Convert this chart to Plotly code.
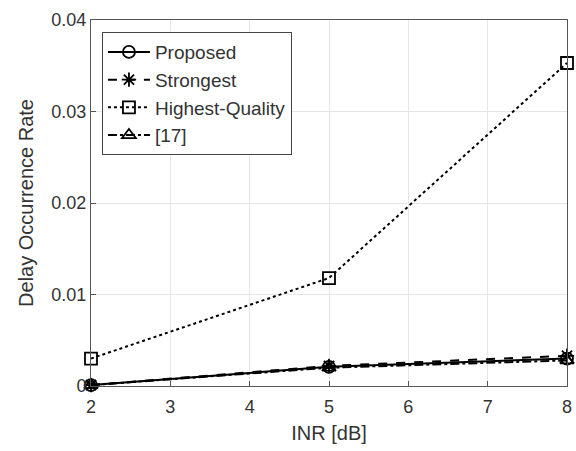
import plotly.graph_objects as go

inr = [2, 5, 8]
proposed = [0.0001, 0.0021, 0.0030]
strongest = [0.0001, 0.0022, 0.0033]
highest_quality = [0.0030, 0.0118, 0.0353]
ref17 = [0.0001, 0.0020, 0.0028]

series = [
    ("Proposed", proposed, "solid", "circle-open"),
    ("Strongest", strongest, "dash", "asterisk-open"),
    ("Highest-Quality", highest_quality, "dot", "square-open"),
    ("[17]", ref17, "dashdot", "triangle-up-open"),
]

fig = go.Figure()
for name, ys, dash, sym in series:
    fig.add_trace(go.Scatter(
        x=inr, y=ys, name=name, mode="lines+markers", cliponaxis=False,
        line=dict(color="black", width=2, dash=dash),
        marker=dict(symbol=sym, size=12, color="black", line=dict(color="black", width=1.8)),
    ))

axis_common = dict(
    showgrid=True, gridcolor="#e6e6e6", gridwidth=1,
    showline=True, linecolor="#555555", linewidth=1, mirror=True,
    ticks="inside", ticklen=5, tickcolor="#555555",
    tickfont=dict(family="Liberation Sans, Arial", size=18, color="#333333"),
    ticklabeloverflow="allow",
    zeroline=False,
)

fig.update_layout(
    width=576, height=451,
    margin=dict(l=91, r=4, t=20, b=65),
    plot_bgcolor="white", paper_bgcolor="white",
    font=dict(family="Liberation Sans, Arial", size=18, color="#333333"),
    xaxis=dict(range=[2, 8], tickvals=[2, 3, 4, 5, 6, 7, 8], ticklabelstandoff=4,
               title=dict(text="INR [dB]", font=dict(size=20), standoff=10), **axis_common),
    yaxis=dict(range=[0, 0.04], tickvals=[0, 0.01, 0.02, 0.03, 0.04],
               ticktext=["0", "0.01", "0.02", "0.03", "0.04"],
               title=dict(text="Delay Occurrence Rate", font=dict(size=20), standoff=12), **axis_common),
    legend=dict(x=0.023, y=0.967, xanchor="left", yanchor="top",
                bgcolor="white", bordercolor="#444444", borderwidth=1,
                font=dict(size=19, color="#333333"), tracegroupgap=0, itemwidth=42),
    showlegend=True,
)

fig.write_html("out.html", config={"displayModeBar": False},
               post_script="document.body.style.margin='0';")
